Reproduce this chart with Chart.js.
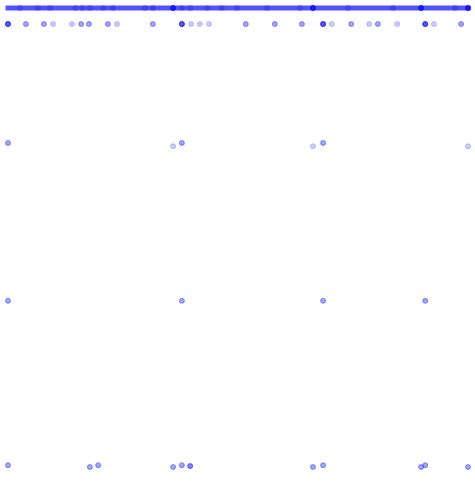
<!DOCTYPE html>
<html><head><meta charset="utf-8">
<script src="https://cdn.jsdelivr.net/npm/chart.js@4/dist/chart.umd.min.js"></script>
<style>html,body{margin:0;padding:0;background:#fff}canvas{display:block}</style>
</head><body>
<canvas id="c" width="475" height="490"></canvas>
<script>
// Y levels (arbitrary units, 0..100)
const levels = [100, 96.5, 70.6, 69.9, 36.2, 0.4, 0.2, 0];
// X positions for each level (repeats = overlapping points)
const xsAt100 = [2.6, 6.5, 9.1, 14.6, 16.1, 17.8, 20.7, 22.8, 29.8, 31.5,
  35.9, 35.9, 35.9, 35.9, 35.9, 37.8, 39.6, 43.3, 46.5, 49.8, 56.3, 63.5,
  66.3, 66.3, 66.3, 66.3, 66.3, 73.9, 83.7, 89.8, 89.8, 89.8, 89.8, 89.8,
  97.2, 100, 100, 100, 100, 100];
const xsAt96 = [0,0,0,0,0, 3.9,3.9, 7.8,7.8, 9.8, 13.9, 15.9,15.9, 17.6,17.6,
  21.7,21.7, 23.7, 31.5,31.5, 37.8,37.8,37.8,37.8,37.8, 39.8, 41.7, 43.7,
  51.7,51.7, 58.0,58.0, 63.9,63.9, 68.5,68.5,68.5,68.5,68.5, 70.4, 74.6,74.6,
  78.5, 80.4,80.4, 84.6, 90.7,90.7,90.7,90.7,90.7, 92.6, 98.5,98.5];
const xsAt70a = [0,0, 37.8,37.8, 68.5,68.5];
const xsAt70b = [35.9, 66.3, 100];
const xsAt36 = [0,0, 37.8,37.8, 68.5,68.5, 90.7,90.7];
const xsAt0a = [0,0, 19.6,19.6, 37.8,37.8, 68.5,68.5, 90.7,90.7];
const xsAt0b = [39.6,39.6,39.6];
const xsAt0c = [17.8,17.8, 35.9,35.9, 66.3,66.3, 89.8,89.8, 100,100];
const bandX = [0, 100];

const rows = [xsAt100, xsAt96, xsAt70a, xsAt70b, xsAt36, xsAt0a, xsAt0b, xsAt0c];
const pts = [];
rows.forEach((xs, i) => xs.forEach(x => pts.push({x: x, y: levels[i]})));

const col = 'rgba(0,0,255,0.2)';
new Chart(document.getElementById('c'), {
  data: {
    datasets: [
      { type: 'line', data: bandX.map(x => ({x: x, y: levels[0]})),
        borderColor: 'rgba(0,0,255,0.68)', borderWidth: 5, borderCapStyle: 'square',
        pointRadius: 0, clip: false },
      { type: 'scatter', data: pts, backgroundColor: col, borderColor: col,
        borderWidth: 1, pointRadius: 2.5, pointHoverRadius: 2.5, clip: false }
    ]
  },
  options: {
    responsive: false, animation: false,
    layout: { padding: { left: 8, right: 7, top: 8, bottom: 23 } },
    plugins: { legend: { display: false }, tooltip: { enabled: false } },
    scales: {
      x: { type: 'linear', min: 0, max: 100, display: false },
      y: { type: 'linear', min: 0, max: 100, display: false }
    }
  }
});
</script>
</body></html>
